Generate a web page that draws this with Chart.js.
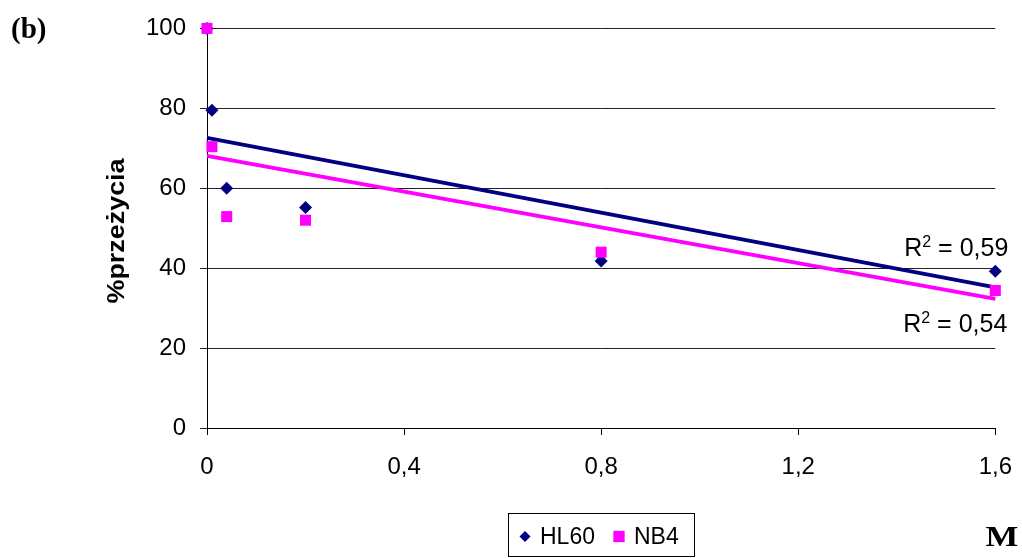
<!DOCTYPE html>
<html>
<head>
<meta charset="utf-8">
<script src="https://cdn.jsdelivr.net/npm/chart.js@4/dist/chart.umd.min.js"></script>
<style>
  html, body { margin: 0; padding: 0; background: #fff; }
  #wrap { width: 1022px; height: 558px; position: relative; }
</style>
</head>
<body>
<div id="wrap"><canvas id="c" width="1022" height="558"></canvas></div>
<script>
// Concentration (M) and survival (%) for the two cell lines
const doses = [0, 0.01, 0.04, 0.2, 0.8, 1.6];
const hl60Survival = [100, 79.5, 60, 55.2, 41.8, 39.2];
const nb4Survival = [100, 70.4, 52.9, 52, 44, 34.4];

// Linear trend lines (values at both ends of the dose range)
const trendX = [0, 1.6];
const hl60Trend = [72.6, 35.2];
const nb4Trend = [68.1, 32.3];
const r2Values = ['0,59', '0,54'];

const xTickValues = [0, 0.4, 0.8, 1.2, 1.6];
const xTickLabels = ['0', '0,4', '0,8', '1,2', '1,6'];
const yTickValues = [0, 20, 40, 60, 80, 100];

const NAVY = '#000080';
const MAGENTA = '#FF00FF';
const FONT = "'Liberation Sans', Arial, sans-serif";
const SERIF = "'Liberation Serif', 'Times New Roman', serif";

const toPoints = (xs, ys) => xs.map((x, i) => ({ x, y: ys[i] }));

// Panel letter, axis unit, y title, R² labels and boxed legend
const decorations = {
  id: 'decorations',
  afterDraw(chart) {
    const ctx = chart.ctx;
    const xs = chart.scales.x;
    ctx.save();
    ctx.fillStyle = '#000';

    // panel letter
    ctx.font = 'bold 29px ' + SERIF;
    ctx.textBaseline = 'alphabetic';
    ctx.textAlign = 'left';
    ctx.fillText('(b)', 11, 38);

    // unit label
    ctx.save();
    ctx.translate(1002, 546);
    ctx.scale(1.2, 1);
    ctx.font = 'bold 29px ' + SERIF;
    ctx.textAlign = 'center';
    ctx.fillText('M', 0, 0);
    ctx.restore();

    // y axis title
    ctx.save();
    ctx.translate(118, 231);
    ctx.rotate(-Math.PI / 2);
    ctx.scale(1.17, 1);
    ctx.font = 'bold 23px ' + FONT;
    ctx.textAlign = 'center';
    ctx.textBaseline = 'middle';
    ctx.fillText('%przeżycia', 0, 0);
    ctx.restore();

    // R² labels, right-aligned near the end of each trend line
    const drawR2 = (value, right, baseline) => {
      ctx.font = '25px ' + FONT;
      const wR = ctx.measureText('R').width;
      const rest = ' = ' + value;
      const wRest = ctx.measureText(rest).width;
      ctx.font = '16px ' + FONT;
      const w2 = ctx.measureText('2').width;
      let x = right - (wR + w2 + wRest);
      ctx.textAlign = 'left';
      ctx.textBaseline = 'alphabetic';
      ctx.font = '25px ' + FONT;
      ctx.fillText('R', x, baseline);
      x += wR;
      ctx.font = '16px ' + FONT;
      ctx.fillText('2', x, baseline - 9);
      x += w2;
      ctx.font = '25px ' + FONT;
      ctx.fillText(rest, x, baseline);
    };
    const xEnd = xs.getPixelForValue(trendX[1]);
    drawR2(r2Values[0], xEnd + 13, 256);
    drawR2(r2Values[1], xEnd + 12, 332);

    // legend box
    ctx.strokeStyle = '#000';
    ctx.lineWidth = 1;
    ctx.strokeRect(508.5, 513.5, 186, 43);
    const items = [
      { label: chart.data.datasets[1].label, style: 'rectRot', r: 5.5, color: NAVY, mx: 525, tx: 540 },
      { label: chart.data.datasets[0].label, style: 'rect', r: 8, color: MAGENTA, mx: 619, tx: 634 }
    ];
    items.forEach(it => {
      ctx.fillStyle = it.color;
      ctx.strokeStyle = it.color;
      Chart.helpers.drawPoint(ctx, { pointStyle: it.style, radius: it.r, borderWidth: 0 }, it.mx, 536.5);
      ctx.fillStyle = '#000';
      ctx.font = '23px ' + FONT;
      ctx.textAlign = 'left';
      ctx.textBaseline = 'alphabetic';
      ctx.fillText(it.label, it.tx, 544);
    });
    ctx.restore();
  }
};

Chart.defaults.font.family = FONT;
Chart.defaults.font.size = 24;
Chart.defaults.color = '#000';

new Chart(document.getElementById('c'), {
  type: 'scatter',
  data: {
    datasets: [
      {
        label: 'NB4',
        data: toPoints(doses, nb4Survival),
        pointStyle: 'rect',
        pointRadius: 7.8,
        pointHoverRadius: 7.8,
        backgroundColor: MAGENTA,
        borderColor: MAGENTA,
        borderWidth: 0,
        showLine: false,
        clip: false,
        order: 0
      },
      {
        label: 'HL60',
        data: toPoints(doses, hl60Survival),
        pointStyle: 'rectRot',
        pointRadius: 6.5,
        pointHoverRadius: 6.5,
        backgroundColor: NAVY,
        borderColor: NAVY,
        borderWidth: 0,
        showLine: false,
        clip: false,
        order: 1
      },
      {
        label: 'HL60 trend',
        type: 'line',
        data: toPoints(trendX, hl60Trend),
        borderColor: NAVY,
        borderWidth: 3.8,
        pointRadius: 0,
        fill: false,
        clip: false,
        order: 2
      },
      {
        label: 'NB4 trend',
        type: 'line',
        data: toPoints(trendX, nb4Trend),
        borderColor: MAGENTA,
        borderWidth: 3.8,
        pointRadius: 0,
        fill: false,
        clip: false,
        order: 3
      }
    ]
  },
  options: {
    responsive: false,
    animation: false,
    events: [],
    layout: { padding: { left: 0, top: 27, right: 26, bottom: 70 } },
    plugins: {
      legend: { display: false },
      tooltip: { enabled: false }
    },
    scales: {
      x: {
        type: 'linear',
        min: 0,
        max: 1.6,
        afterFit: s => { s.height = 60; },
        afterBuildTicks: s => { s.ticks = xTickValues.map(v => ({ value: v })); },
        ticks: {
          padding: 10,
          maxRotation: 0,
          font: { size: 24, lineHeight: 1.85 },
          callback: (v, i) => xTickLabels[i]
        },
        grid: {
          drawOnChartArea: false,
          drawTicks: true,
          tickLength: 7,
          color: '#000',
          lineWidth: 1
        },
        border: { display: true, color: '#000', width: 1 }
      },
      y: {
        type: 'linear',
        min: 0,
        max: 100,
        afterFit: s => { s.width = 207; },
        afterBuildTicks: s => { s.ticks = yTickValues.map(v => ({ value: v })); },
        ticks: {
          padding: 14,
          font: { size: 24 },
          callback: v => String(v)
        },
        grid: {
          color: '#222',
          lineWidth: 1,
          tickLength: 7,
          drawTicks: true
        },
        border: { display: true, color: '#000', width: 1 }
      }
    }
  },
  plugins: [decorations]
});
</script>
</body>
</html>
